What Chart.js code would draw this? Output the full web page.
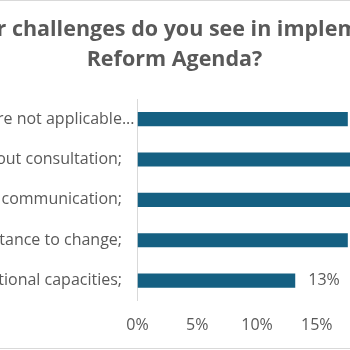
<!DOCTYPE html>
<html>
<head>
<meta charset="utf-8">
<script src="https://cdn.jsdelivr.net/npm/chart.js@4.4.1/dist/chart.umd.min.js"></script>
<style>
    html, body { margin: 0; padding: 0; background: #fff; }
    #wrap { position: relative; width: 350px; height: 350px; overflow: hidden; }
    #chart { position: absolute; left: -147px; top: 0; }
    .rule { position: absolute; left: 0; width: 350px; height: 1px; background: #d9d9d9; }
</style>
</head>
<body>
<div id="wrap">
    <canvas id="chart" width="643" height="350"></canvas>
    <div class="rule" style="top: 0;"></div>
    <div class="rule" style="top: 348px;"></div>
</div>
<script>
// Data
const titleLines = ['What major challenges do you see in implementing the', 'Reform Agenda?'];
const categories = [
    'Some of the reforms are not applicable...',
    'Reforms imposed without consultation;   ',
    'Lack of communication;   ',
    'Resistance to change;   ',
    'Lack of institutional capacities;   '
];
const values = [17.6, 20.6, 23.5, 17.6, 13.2];
const tickStep = 5;

const textColor = '#595959';
const barColor = '#156082';
const fontFamily = '"Open Sans", sans-serif';

// Value labels at the end of each bar
const barLabels = {
    id: 'barLabels',
    afterDatasetsDraw(chart) {
        const ctx = chart.ctx;
        const meta = chart.getDatasetMeta(0);
        ctx.save();
        ctx.font = '16px ' + fontFamily;
        ctx.fillStyle = textColor;
        ctx.textAlign = 'left';
        ctx.textBaseline = 'middle';
        meta.data.forEach((bar, i) => {
            ctx.fillText(Math.round(values[i]) + '%', bar.x + 13, bar.y);
        });
        ctx.restore();
    }
};

const ctx = document.getElementById('chart').getContext('2d');
new Chart(ctx, {
    type: 'bar',
    data: {
        labels: categories,
        datasets: [{
            data: values,
            backgroundColor: barColor,
            barPercentage: 0.35,
            categoryPercentage: 1
        }]
    },
    options: {
        indexAxis: 'y',
        responsive: false,
        animation: false,
        layout: { padding: 0 },
        plugins: {
            legend: { display: false },
            tooltip: { enabled: false },
            title: {
                display: true,
                text: titleLines,
                color: textColor,
                font: { family: fontFamily, size: 21.5, weight: 'bold', lineHeight: 30 / 21.5 },
                padding: { top: 15, bottom: 24 }
            }
        },
        scales: {
            x: {
                min: 0,
                max: 30,
                afterFit: scale => { scale.paddingLeft = 0; scale.paddingRight = 0; },
                grid: { display: false, drawTicks: false },
                border: { display: false },
                ticks: {
                    stepSize: tickStep,
                    padding: 15,
                    color: textColor,
                    font: { family: fontFamily, size: 16 },
                    callback: v => v + '%'
                }
            },
            y: {
                afterFit: scale => { scale.width = 284.5; },
                grid: { display: false, drawTicks: false },
                border: { display: true, color: '#d9d9d9', width: 1 },
                ticks: {
                    padding: 3,
                    color: textColor,
                    font: { family: fontFamily, size: 16 }
                }
            }
        }
    },
    plugins: [barLabels]
});
</script>
</body>
</html>
